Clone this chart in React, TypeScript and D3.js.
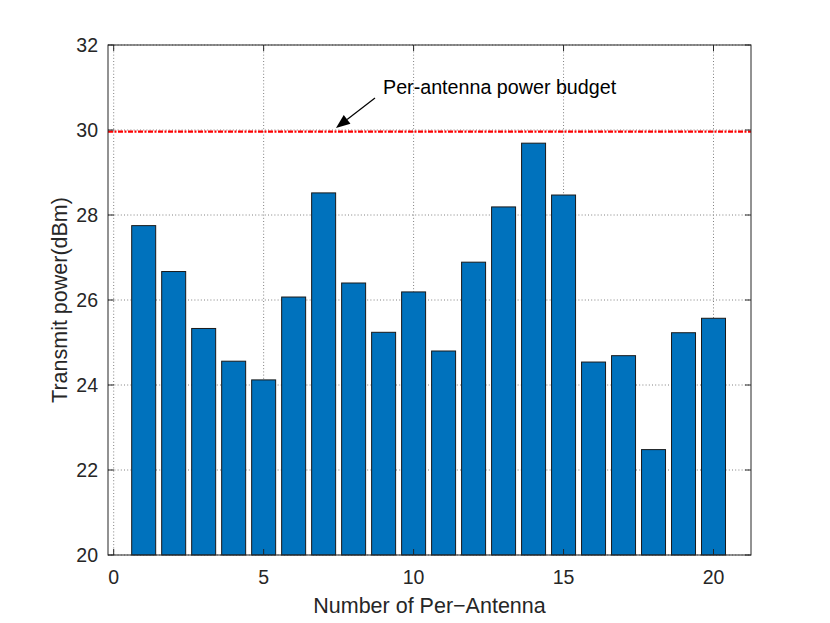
import React from "react";
import * as d3 from "d3";

const antennas = d3.range(1, 21);
const powers = [27.75, 26.67, 25.33, 24.56, 24.12, 26.07, 28.52, 26.4, 25.24, 26.19, 24.8, 26.89, 28.19, 29.69, 28.47, 24.54, 24.69, 22.48, 25.23, 25.57];
const xTicks = [0, 5, 10, 15, 20];
const yTicks = [20, 22, 24, 26, 28, 30, 32];
const budget = 29.96;
const annotationText = "Per-antenna power budget";
const xLabel = "Number of Per\u2212Antenna";
const yLabel = "Transmit power(dBm)";

const W = 830, H = 623;
const L = 108, R = 751, T = 45, B = 555;
const font = "'Liberation Sans', Arial, Helvetica, sans-serif";
const axisColor = "#262626";

export default function App() {
  const x = d3.scaleLinear().domain([-0.19, 21.25]).range([L, R]);
  const y = d3.scaleLinear().domain([20, 32]).range([B, T]);
  const bw = x(0.8) - x(0);
  const line = d3.line<[number, number]>().x(d => x(d[0])).y(d => y(d[1]));
  const budgetPath = line([[-0.19, budget], [21.25, budget]]) || "";

  const tail: [number, number] = [375, 98];
  const tip: [number, number] = [336, 128];
  const ang = Math.atan2(tip[1] - tail[1], tip[0] - tail[0]);
  const hl = 14, hw = 5.5;
  const bx = tip[0] - hl * Math.cos(ang), by = tip[1] - hl * Math.sin(ang);
  const head = [
    [tip[0], tip[1]],
    [bx + hw * Math.sin(ang), by - hw * Math.cos(ang)],
    [bx - hw * Math.sin(ang), by + hw * Math.cos(ang)],
  ].map(p => p.join(",")).join(" ");

  return (
    <svg width={W} height={H} style={{ position: "absolute", left: 0, top: 0, background: "#fff" }} fontFamily={font}>
      <rect x={0} y={0} width={W} height={H} fill="#fff" />
      <g stroke="#808080" strokeWidth={1} strokeDasharray="1 2.2">
        {xTicks.map(t => (
          <line key={"gx" + t} x1={x(t)} x2={x(t)} y1={T} y2={B} />
        ))}
        {yTicks.map(t => (
          <line key={"gy" + t} x1={L} x2={R} y1={y(t)} y2={y(t)} />
        ))}
      </g>
      <g fill="#0072BD" stroke="#1a1a1a" strokeWidth={1}>
        {antennas.map((a, i) => (
          <rect key={a} x={x(a) - bw / 2} y={y(powers[i])} width={bw} height={y(20) - y(powers[i])} />
        ))}
      </g>
      <path d={budgetPath} stroke="#FF0000" strokeWidth={2.2} strokeDasharray="5 1.5 2 1.5" fill="none" />
      <rect x={L} y={T} width={R - L} height={B - T} fill="none" stroke={axisColor} strokeWidth={1} />
      <g stroke={axisColor} strokeWidth={1}>
        {xTicks.map(t => (
          <g key={"tx" + t}>
            <line x1={x(t)} x2={x(t)} y1={B} y2={B - 6} />
            <line x1={x(t)} x2={x(t)} y1={T} y2={T + 6} />
          </g>
        ))}
        {yTicks.map(t => (
          <g key={"ty" + t}>
            <line x1={L} x2={L + 6} y1={y(t)} y2={y(t)} />
            <line x1={R} x2={R - 6} y1={y(t)} y2={y(t)} />
          </g>
        ))}
      </g>
      <g fill={axisColor} fontSize={19.5}>
        {xTicks.map(t => (
          <text key={"lx" + t} x={x(t)} y={584} textAnchor="middle">{t}</text>
        ))}
        {yTicks.map(t => (
          <text key={"ly" + t} x={98} y={y(t) + 7} textAnchor="end">{t}</text>
        ))}
      </g>
      <text x={(L + R) / 2} y={613} textAnchor="middle" fontSize={21.5} fill={axisColor}>{xLabel}</text>
      <text transform={`translate(67,${(T + B) / 2}) rotate(-90)`} textAnchor="middle" fontSize={21.5} fill={axisColor}>{yLabel}</text>
      <line x1={tail[0]} y1={tail[1]} x2={bx} y2={by} stroke="#000" strokeWidth={1.2} />
      <polygon points={head} fill="#000" />
      <text x={383} y={94} fontSize={19.7} fill="#000">{annotationText}</text>
    </svg>
  );
}
